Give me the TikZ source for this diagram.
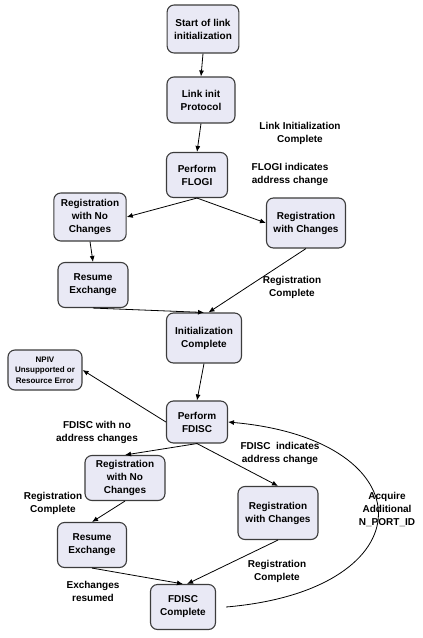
\documentclass[tikz,border=0pt]{standalone}
\usepackage{fontspec}
\setmainfont{Liberation Sans}
\usepackage{tikz}
\usetikzlibrary{arrows.meta,positioning,calc}
\usepackage{xcolor}
\definecolor{StepFill}{HTML}{E9E9F5}
\definecolor{StepLine}{HTML}{3C3C3C}

\begin{document}
\begin{tikzpicture}[x=1pt,y=-1pt, every node/.style={font=\bfseries\fontsize{10}{13}\selectfont,align=center},
    stepbox/.style={draw=StepLine,line width=1.1pt,rounded corners=7pt,fill=StepFill,minimum width=61pt,minimum height=45pt,inner xsep=7pt},
    flow/.style={-{Latex[length=6pt,width=5pt]},line width=0.8pt}]
    \useasboundingbox (0,0) rectangle (423,638);
    % link init and FLOGI
    \node[stepbox,minimum width=71pt,minimum height=48pt] (start) at (203,29) {Start of link\\initialization};
    \node[stepbox,minimum width=68pt,minimum height=46pt] (link) at (201,100) {Link init\\Protocol};
    \node[stepbox] (flogi) at (197,175) {Perform\\FLOGI};
    \node[stepbox,minimum height=48pt] (regno) at (90,217) {Registration\\with No\\Changes};
    \node[stepbox,minimum height=50pt] (regch) at (306,223) {Registration\\with Changes};
    \node[stepbox,minimum width=70pt] (resume) at (93,285) {Resume\\Exchange};
    \node[stepbox,minimum width=75pt,minimum height=50pt] (init) at (204,338) {Initialization\\Complete};
    \node (lblinit) at (300,133) {Link Initialization\\Complete};
    \node (lblflogi) at (290,174) {FLOGI indicates\\address change};
    \node (lblreg) at (292,287) {Registration\\Complete};
    % FDISC part
    \node[stepbox,font=\bfseries\fontsize{8}{10.5}\selectfont,minimum width=74pt,minimum height=40pt,inner xsep=3pt] (npiv) at (45,370) {NPIV\\Unsupported or\\Resource Error};
    \node[stepbox,minimum height=42pt] (fdisc) at (197,422) {Perform\\FDISC};
    \node[stepbox,minimum width=80pt] (regnob) at (125,478) {Registration\\with No\\Changes};
    \node[stepbox,minimum width=80pt,minimum height=53pt] (regchb) at (278,513) {Registration\\with Changes};
    \node[stepbox,minimum width=69pt] (resumeb) at (92,545) {Resume\\Exchange};
    \node[stepbox,minimum width=65pt] (fdiscc) at (183,607) {FDISC\\Complete};
    \node (lblnochg) at (97,432) {FDISC with no\\address changes};
    \node (lblfdisc) at (280,453) {FDISC~~indicates\\address change};
    \node (lblregb) at (53,503) {Registration\\Complete};
    \node (lblacq) at (387,509) {Acquire\\Additional\\N\_PORT\_ID};
    \node (lblregc) at (277,571) {Registration\\Complete};
    \node (lblexch) at (93,591) {Exchanges\\resumed};
    \foreach \x/\y in {start.south/link.north,link.south/flogi.north,flogi.south/regno.east,flogi.south/regch.west,regno.south/resume.north,resume.south/init.north,regch.south/init.80,init.south/fdisc.north,fdisc.west/npiv.east,fdisc.south/regnob.north,fdisc.south/regchb.north,regnob.south/resumeb.north,resumeb.south/fdiscc.north,regchb.south/fdiscc.80}{\draw[flow] (\x) -- (\y);}
    \draw[flow] ([xshift=10pt]fdiscc.east) .. controls (428,590) and (428,440) .. (fdisc.east);
  \end{tikzpicture}
\end{document}
